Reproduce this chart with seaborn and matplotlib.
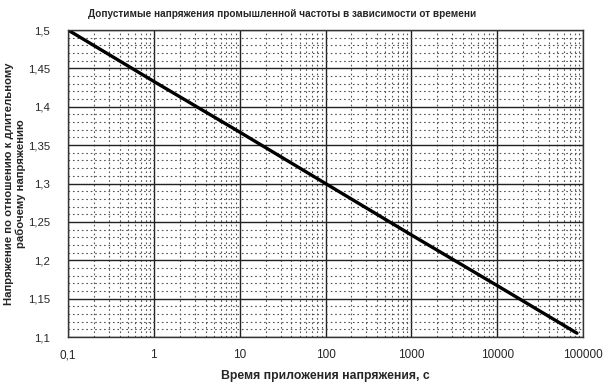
import matplotlib
matplotlib.use('Agg')
import matplotlib.pyplot as plt
import numpy as np
import pandas as pd
import seaborn as sns
from matplotlib.ticker import FixedLocator, LogLocator, MultipleLocator, FuncFormatter

# time of applied voltage, s  and  allowed voltage ratio
time_s = [0.1, 1, 10, 100, 1000, 10000, 85000]
ratio = [1.5, 1.433, 1.367, 1.3, 1.233, 1.167, 1.105]

x_ticks = [0.1, 1, 10, 100, 1000, 10000, 100000]
x_tick_labels = ['0,1', '1', '10', '100', '1000', '10000', '100000']

TITLE = 'Допустимые напряжения промышленной частоты в зависимости от времени'
X_LABEL = 'Время приложения напряжения, с'
Y_LABEL = 'Напряжение по отношению к длительному\nрабочему напряжению'

sns.set_style('white')
plt.rcParams['font.family'] = ['Liberation Sans', 'DejaVu Sans']

df = pd.DataFrame({'t': time_s, 'u': ratio})

fig = plt.figure(figsize=(6.04, 3.85), dpi=100)
ax = fig.add_axes([68 / 604, 48 / 385, 515 / 604, 307 / 385])

sns.lineplot(data=df, x='t', y='u', ax=ax, color='black', linewidth=2.4)

ax.set_xscale('log')
ax.set_xlim(0.1, 100000)
ax.set_ylim(1.1, 1.5)

ax.xaxis.set_major_locator(FixedLocator(x_ticks))
ax.set_xticklabels(x_tick_labels)
ax.xaxis.set_minor_locator(LogLocator(base=10, subs=np.arange(2, 10)))
ax.xaxis.set_minor_formatter(FuncFormatter(lambda v, p: ''))
ax.yaxis.set_major_locator(MultipleLocator(0.05))
ax.yaxis.set_minor_locator(MultipleLocator(0.01))
ax.yaxis.set_major_formatter(FuncFormatter(lambda v, p: ('%g' % round(v, 2)).replace('.', ',')))

ax.grid(which='major', color='#222222', linewidth=1.0, linestyle='-')
ax.grid(which='minor', color='#555555', linewidth=0.8, linestyle=(0, (1.5, 2.5)))
ax.set_axisbelow(True)

for s in ax.spines.values():
    s.set_color('#333333')
    s.set_linewidth(1.0)

ax.tick_params(axis='y', which='major', direction='out', length=5, width=1, pad=8, labelsize=8.2)
ax.tick_params(axis='x', which='major', direction='out', length=0, pad=9, labelsize=8.5)
ax.tick_params(which='minor', length=0)

ax.set_xlabel(X_LABEL, fontsize=8.8, fontweight='bold', labelpad=6)
ax.set_ylabel(Y_LABEL, fontsize=8.2, fontweight='bold', va='center', ma='center', linespacing=1.1)
ax.yaxis.set_label_coords(-53 / 515, 0.5)
fig.text(282 / 604, 1 - 14 / 385, TITLE, ha='center', va='center', fontsize=7.2, fontweight='bold')

fig.savefig('out.png', dpi=100)
